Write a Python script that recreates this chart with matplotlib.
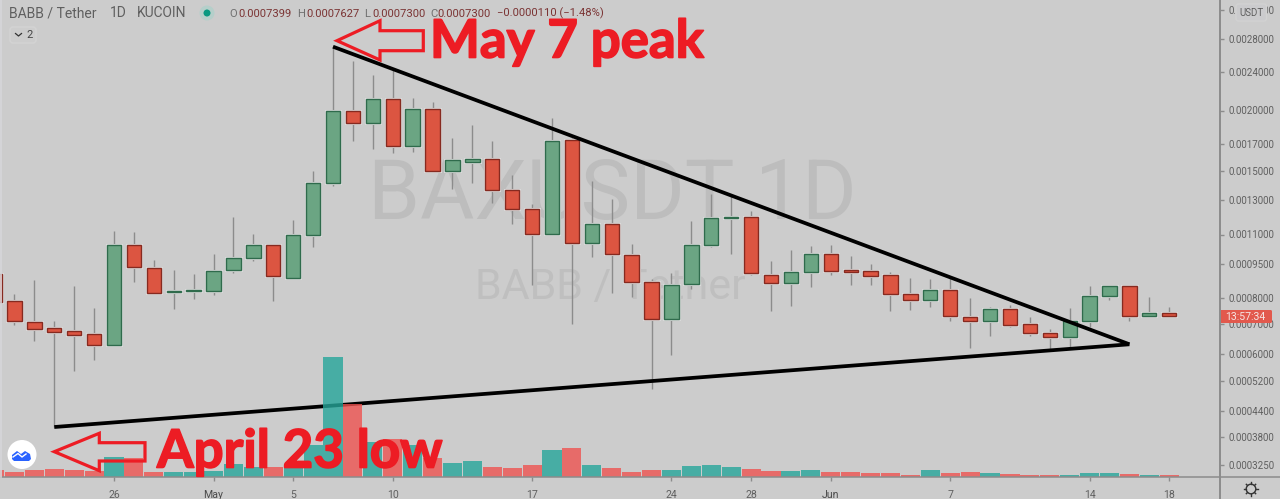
import numpy as np
import matplotlib
matplotlib.use('Agg')
import matplotlib.pyplot as plt
import matplotlib.patheffects as pe
from matplotlib.patches import Circle, FancyBboxPatch, Polygon

# prix en unites de 1e-7 USDT, du 20 avril au 18 juin
open_prices = [9032, 7866, 7061, 6847, 6742, 6639, 6274, 10425, 9324, 8263, 8276, 8301, 9202, 9802, 10441,
               8864, 10956, 14117, 19981, 18796, 21149, 16820, 20171, 15021, 15661, 15880, 13678, 12446, 11043, 17333,
               10529, 11574, 9935, 8674, 7171, 8574, 10456, 11898, 11990, 8986, 8643, 9124, 9969, 9202, 9156,
               9000, 8151, 7918, 8330, 7267, 7098, 7549, 7011, 6673, 6558, 7120, 8094, 8487, 7294, 7399]
close_prices = [7849, 7120, 6833, 6728, 6626, 6274, 10425, 9357, 8205, 8288, 8343, 9156, 9802, 10425, 8927,
                10956, 14117, 19923, 18796, 21149, 16820, 20114, 15021, 15763, 15880, 13637, 12464, 11043, 17224, 10529,
                11574, 9984, 8674, 7171, 8543, 10456, 11898, 11990, 9064, 8643, 9124, 9969, 9184, 9137, 8954,
                8151, 7918, 8330, 7282, 7098, 7549, 6975, 6684, 6558, 7120, 8094, 8487, 7294, 7395, 7300]
high_prices = [9216, 8163, 8762, 7120, 8500, 7588, 11188, 11134, 9691, 9216, 9018, 9984, 11955, 11011, 10508,
               11800, 15021, 27011, 25265, 23661, 24418, 21190, 20792, 17477, 18614, 17249, 14707, 12769, 19257, 17477,
               14299, 13084, 10493, 8793, 9091, 11743, 13410, 13325, 12326, 9643, 10169, 10389, 10425, 9885, 9500,
               9110, 8851, 8806, 8909, 7988, 7650, 7718, 7256, 6822, 7588, 8500, 8487, 8487, 8028, 7627]
low_prices = [7718, 6953, 6414, 4020, 5483, 5812, 6274, 8661, 8205, 7572, 7971, 8135, 9091, 9657, 7890,
              8864, 10353, 13950, 17274, 16634, 16283, 16358, 15021, 13705, 14117, 12794, 11574, 8543, 11043, 6989,
              9822, 8217, 8053, 4982, 5978, 8360, 10353, 9969, 8986, 7495, 7678, 8470, 8973, 8543, 8543,
              7495, 7522, 7650, 7120, 6188, 6581, 6882, 6592, 6103, 6178, 6882, 7918, 7109, 7267, 7300]
volumes = [73, 47, 67, 77, 67, 60, 200, 190, 50, 50, 50, 63, 130, 97, 97,
           120, 320, 1200, 730, 353, 380, 320, 193, 137, 160, 103, 93, 117, 267, 287,
           123, 93, 50, 73, 67, 113, 123, 100, 77, 63, 63, 67, 53, 47, 37,
           37, 23, 67, 37, 47, 37, 27, 20, 20, 20, 37, 37, 27, 20, 17]

upper_days = [17, 57]
upper_prices = [27011, 6307]
lower_days = [3, 57]
lower_prices = [4020, 6307]

x_ticks = [6, 11, 15, 20, 27, 34, 38, 42, 48, 55, 59]
x_labels = ['26', 'May', '5', '10', '17', '24', '28', 'Jun', '7', '14', '18']
y_ticks = [32000, 28000, 24000, 20000, 17000, 15000, 13000, 11000, 9500, 8000, 7000, 6000, 5200, 4400, 3800, 3250]

# l'echelle log de TradingView n'est pas reguliere : calage sur les graduations
scale_prices = [3040, 3250, 3800, 4400, 5200, 6000, 7000, 8000, 9500, 11000, 13000, 15000, 17000, 20000, 24000, 28000, 32000, 33500]
scale_rows = [477, 465, 437, 411, 381, 354, 324, 298, 264, 234.5, 200, 171, 144, 110.5, 72, 39, 10, 0]


def forward(p):
    return np.interp(np.log(np.maximum(p, 1)), np.log(scale_prices), -np.array(scale_rows, dtype=float))


def inverse(r):
    return np.exp(np.interp(r, -np.array(scale_rows, dtype=float), np.log(scale_prices)))


W, H = 1280, 499
BG = '#cccccc'
TXT = '#5f5f5f'
RED = '#ed1c24'
plt.rcParams['font.family'] = ['Roboto', 'DejaVu Sans']

fig = plt.figure(figsize=(W / 100, H / 100), dpi=100, facecolor=BG)
rect = [0, (H - 477) / H, 1220 / W, 477 / H]

# fond : filigranes
bg = fig.add_axes([0, 0, 1, 1], zorder=0)
bg.set_xlim(0, W)
bg.set_ylim(H, 0)
bg.axis('off')
bg.text(612, 196, 'BAXUSDT 1D', fontsize=60, color='#bdbdbd', ha='center', va='center')
bg.text(610, 288, 'BABB / Tether', fontsize=31, color='#bfbfbf', ha='center', va='center')

# bougies
ax = fig.add_axes(rect, zorder=1)
ax.patch.set_visible(False)
ax.set_yscale('function', functions=(forward, inverse))
days = np.arange(len(open_prices))
opens = np.array(open_prices)
closes = np.array(close_prices)
up = closes >= opens
ax.vlines(days, low_prices, high_prices, color='#8c8c8c', lw=1, zorder=2)
halo = [pe.withStroke(linewidth=2.2, foreground='#dadada')]
for mask, face, edge in [(up, '#6ba583', '#2f6b4c'), (~up, '#dc5541', '#862a20')]:
    bars = ax.bar(days[mask], np.abs(closes - opens)[mask], bottom=np.minimum(opens, closes)[mask], width=0.72,
                  color=face, edgecolor=edge, linewidth=1, zorder=3)
    for b in bars:
        b.set_path_effects(halo)
ax.plot(upper_days, upper_prices, color='black', lw=2.7, solid_capstyle='butt', zorder=4)
ax.plot(lower_days, lower_prices, color='black', lw=2.7, solid_capstyle='butt', zorder=4)
ax.set_xlim(0.274, 61.55)
ax.set_ylim(3040, 33500)
ax.yaxis.tick_right()
ax.set_yticks(y_ticks)
ax.set_yticklabels([f'{t * 1e-7:.7f}' for t in y_ticks])
ax.minorticks_off()
ax.set_xticks(x_ticks)
ax.set_xticklabels(x_labels)
ax.tick_params(axis='both', length=3, width=1, color='#8c8c8c', labelcolor=TXT)
ax.tick_params(axis='x', pad=6, labelsize=7.6)
ax.tick_params(axis='y', pad=3, labelsize=7)
for lab in ax.get_xticklabels():
    if lab.get_text() in ('May', 'Jun'):
        lab.set_color('#4a4a4a')
for s in ax.spines.values():
    s.set_visible(False)

# volumes
vol = fig.add_axes(rect, zorder=2, sharex=ax)
vol.patch.set_visible(False)
colors = ['#26a69a' if u else '#ef5350' for u in up]
vol.bar(days, volumes, width=0.96, color=colors, alpha=0.8, linewidth=0)
vol.set_ylim(0, 4770)
vol.axis('off')

# surcouche en pixels : entete, fleches, annotations
fg = fig.add_axes([0, 0, 1, 1], zorder=3)
fg.set_xlim(0, W)
fg.set_ylim(H, 0)
fg.axis('off')
fg.plot([0, W], [477, 477], color='#8c8c8c', lw=1.1)
fg.plot([1220, 1220], [0, H], color='#8c8c8c', lw=1.4)
fg.plot([0.5, 0.5], [0, 477], color='#d6d6da', lw=1.2)

fg.text(9, 13, 'BABB / Tether', fontsize=10, color=TXT, va='center')
fg.text(110, 13, '1D', fontsize=10, color=TXT, va='center')
fg.text(137, 13, 'KUCOIN', fontsize=10, color=TXT, va='center')
fg.add_patch(Circle((207, 13), 7.5, color='#b5cfca', lw=0))
fg.add_patch(Circle((207, 13), 3.5, color='#089981', lw=0))
ohlc = [(229, 'O', 238, '0.0007399'), (297, 'H', 306, '0.0007627'), (364, 'L', 372, '0.0007300'), (430, 'C', 437, '0.0007300')]
for x0, name, x1, value in ohlc:
    fg.text(x0, 13.5, name, fontsize=8.1, color='#6f6f6f', va='center')
    fg.text(x1, 13.5, value, fontsize=8.1, color='#7b3434', va='center')
fg.text(497, 13.5, '\u22120.0000110 (\u22121.48%)', fontsize=8.1, color='#7b3434', va='center')
fg.add_patch(FancyBboxPatch((10, 27), 26, 16, boxstyle='round,pad=0,rounding_size=3', fc='#cdcdcd', ec='#d4d4d4', lw=1))
fg.plot([15.5, 18.5, 21.5], [33.5, 36, 33.5], color='#333333', lw=0.9)
fg.text(26, 35, '2', fontsize=8, color='#444444', va='center')

fg.add_patch(Polygon([(337, 40.7), (380, 20.7), (380, 30.7), (423.3, 30.7), (423.3, 50.7), (380, 50.7), (380, 60)],
                     closed=True, fill=False, ec=RED, lw=2.3, joinstyle='miter'))
fg.add_patch(Polygon([(54.3, 451.7), (99.3, 433.3), (99.3, 442.7), (145, 442.7), (145, 461), (99.3, 461), (99.3, 470.7)],
                     closed=True, fill=False, ec=RED, lw=2.3, joinstyle='miter'))
heavy = [pe.withStroke(linewidth=1.2, foreground=RED)]
fg.text(430, 42, 'May 7 peak', fontsize=38, fontweight='bold', color=RED, family='Lato', va='center', path_effects=heavy)
fg.text(157, 452, 'April 23 low', fontsize=38, fontweight='bold', color=RED, family='Lato', va='center', path_effects=heavy)

# prix courant et boutons de l'echelle
fg.add_patch(FancyBboxPatch((1220, 310), 52, 13, boxstyle='round,pad=0,rounding_size=1.5', fc='#e2594d', ec='none'))
fg.text(1245.5, 316.8, '13:57:34', fontsize=7.6, color='#f5e6e4', ha='center', va='center')
fg.add_patch(FancyBboxPatch((1236, 4), 30.5, 17, boxstyle='round,pad=0,rounding_size=2.5', fc='#cbcbcd', ec='#d2d2d2', lw=1))
fg.text(1251, 13, 'USDT', fontsize=7, color=TXT, ha='center', va='center')

# logo et roue dentee
fg.add_patch(Circle((22, 454.5), 14.5, color='white', lw=0))
fg.add_patch(Polygon([(12, 459), (12, 455), (17, 451), (21, 454), (25, 451), (30, 454), (31, 459), (29, 461), (14, 461)],
                     closed=True, fc='#2962ff', ec='none'))
fg.plot([13, 18, 22, 26], [457, 453.5, 457, 454], color='white', lw=1)
fg.add_patch(Circle((1251, 489), 4.8, fill=False, ec='#333333', lw=1))
for a in np.arange(0, 360, 45):
    c, s = np.cos(np.radians(a)), np.sin(np.radians(a))
    fg.plot([1251 + 4.8 * c, 1251 + 6.6 * c], [489 + 4.8 * s, 489 + 6.6 * s], color='#333333', lw=1)

fig.savefig('out.png', dpi=100, facecolor=BG)
